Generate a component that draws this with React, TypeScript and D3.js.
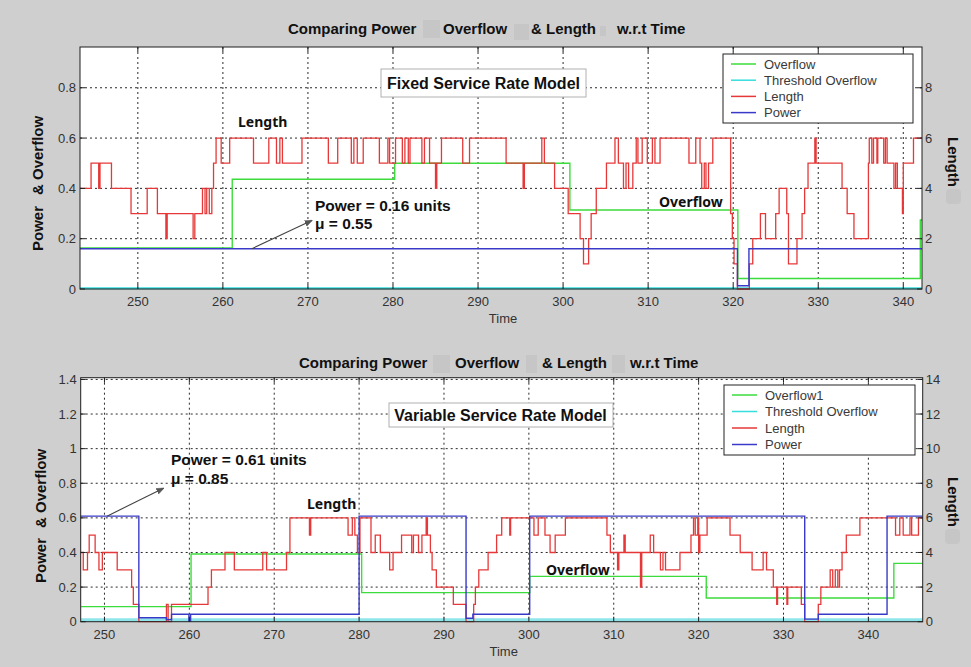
import React from "react";
import * as d3 from "d3";

type Pt = [number, number];

const W = 971;
const H = 667;

// ---------- Fixed service rate model ----------
const fixedTimeTicks = [250, 260, 270, 280, 290, 300, 310, 320, 330, 340];
const fixedLeftTicks = [0, 0.2, 0.4, 0.6, 0.8];
const fixedRightTicks = [0, 2, 4, 6, 8];
const fixedLegend = ["Overflow", "Threshold Overflow", "Length", "Power"];

// queue length (right axis), step changes [time, length]
const fixedLength: Pt[] = [
  [243.2, 4], [244.5, 5], [245.4, 4], [245.55, 5], [246.9, 4], [249.2, 3], [251.1, 4], [252.3, 3],
  [253.3, 2], [253.45, 3], [256.5, 2], [256.7, 3], [257.6, 4], [257.9, 3], [258.1, 4], [258.4, 3],
  [258.7, 4], [258.9, 5], [259.2, 6], [259.8, 5], [260.8, 6], [263.6, 5], [265.4, 6], [266.3, 5],
  [266.7, 6], [267.0, 5], [269.3, 6], [272.4, 5], [273.5, 6], [275.1, 5], [275.4, 6], [275.8, 5],
  [276.5, 6], [278.4, 5], [279.4, 6], [279.6, 5], [280.3, 6], [281.1, 5], [281.4, 6], [281.8, 5],
  [282.0, 6], [283.4, 5], [283.7, 6], [284.3, 5], [285.0, 4], [285.15, 5], [285.7, 6], [288.2, 5],
  [289.0, 6], [293.3, 5], [295.3, 4], [295.45, 5], [297.5, 6], [297.8, 5], [299.0, 4], [300.6, 3],
  [302.0, 2], [302.4, 1], [303.0, 2], [303.3, 3], [303.9, 4], [305.1, 5], [306.1, 6], [306.5, 5],
  [307.1, 4], [307.4, 5], [307.7, 4], [308.2, 5], [308.6, 6], [308.8, 5], [309.3, 6], [309.9, 5],
  [310.5, 6], [310.8, 5], [311.4, 6], [314.8, 5], [315.6, 6], [316.1, 5], [316.3, 4], [316.6, 5],
  [316.8, 4], [317.1, 5], [317.6, 6], [319.7, 3], [319.9, 2], [320.1, 1], [320.5, 0], [321.9, 1],
  [322.3, 2], [323.2, 3], [323.8, 2], [325.0, 3], [325.4, 4], [326.3, 3], [326.5, 1], [327.5, 2],
  [328.1, 3], [328.4, 4], [328.8, 5], [329.6, 6], [329.75, 5], [332.8, 4], [333.4, 3], [334.2, 2],
  [335.9, 5], [336.0, 6], [336.3, 5], [336.5, 6], [336.9, 5], [337.0, 6], [337.7, 5], [337.9, 6],
  [338.1, 5], [338.9, 4], [339.1, 5], [339.3, 4], [339.9, 3], [340.0, 5], [341.2, 6], [342.2, 6],
];
const fixedPower: Pt[] = [[243.2, 0.16], [320.5, 0.013], [321.85, 0.16], [342.2, 0.16]];
const fixedOverflow: Pt[] = [
  [243.2, 0.163], [261.1, 0.436], [280.2, 0.5], [300.8, 0.314], [320.55, 0.042], [342.0, 0.274], [342.2, 0.274],
];
const fixedThreshold: Pt[] = [[243.2, 0.003], [342.2, 0.003]];

// ---------- Variable service rate model ----------
const varTimeTicks = [250, 260, 270, 280, 290, 300, 310, 320, 330, 340];
const varLeftTicks = [0, 0.2, 0.4, 0.6, 0.8, 1, 1.2, 1.4];
const varRightTicks = [0, 2, 4, 6, 8, 10, 12, 14];
const varLegend = ["Overflow1", "Threshold Overflow", "Length", "Power"];

const varLength: Pt[] = [
  [247.2, 4], [247.5, 3], [248.0, 4], [248.2, 5], [248.9, 4], [249.35, 3], [249.75, 4], [251.5, 3],
  [253.2, 2], [253.4, 1], [254.05, 0], [257.3, 1], [257.5, 0], [257.9, 1], [262.2, 2], [262.6, 3],
  [264.2, 4], [265.3, 3], [268.65, 4], [269.1, 3], [271.45, 4], [271.85, 6], [274.15, 5], [274.3, 6],
  [278.7, 5], [279.2, 6], [279.5, 5], [279.8, 4], [280.1, 6], [281.4, 4], [281.9, 5], [282.5, 4],
  [283.6, 3], [284.0, 4], [285.0, 5], [286.2, 4], [286.4, 5], [287.0, 4], [287.4, 5], [287.9, 6],
  [288.05, 5], [288.4, 4], [288.6, 3], [289.1, 2], [291.1, 1], [292.6, 0], [293.5, 1], [293.7, 2],
  [294.1, 3], [295.2, 4], [296.2, 5], [296.8, 6], [297.75, 5], [297.85, 6], [300.6, 5], [301.1, 6],
  [301.9, 5], [302.5, 4], [303.1, 5], [304.3, 6], [309.2, 5], [309.6, 4], [310.45, 3], [310.6, 4],
  [311.2, 5], [311.35, 4], [313.15, 2], [313.3, 4], [314.3, 5], [314.7, 4], [315.5, 3], [315.8, 4],
  [316.1, 3], [317.8, 4], [319.1, 5], [319.4, 6], [319.6, 5], [319.9, 6], [320.0, 4], [320.15, 5],
  [321.0, 6], [323.7, 5], [324.9, 4], [326.3, 3], [327.6, 4], [328.0, 3], [328.8, 2], [329.2, 1],
  [329.3, 2], [330.4, 1], [330.5, 2], [332.1, 1], [332.5, 0], [334.1, 1], [334.4, 2], [335.5, 3],
  [335.8, 2], [336.1, 3], [336.4, 2], [336.6, 3], [336.9, 4], [337.4, 5], [339.0, 6], [343.2, 5],
  [343.7, 6], [344.1, 5], [344.9, 6], [345.1, 5], [345.9, 6], [346.4, 6],
];
const varPower: Pt[] = [
  [247.2, 0.61], [254.05, 0.023], [257.3, 0.012], [257.9, 0.043], [259.95, 0.004], [260.15, 0.043],
  [280.0, 0.61], [292.6, 0.02], [293.4, 0.043], [300.1, 0.61], [332.5, 0.015], [334.1, 0.043],
  [342.2, 0.61], [346.4, 0.61],
];
const varOverflow: Pt[] = [
  [247.2, 0.087], [260.2, 0.391], [280.3, 0.168], [300.1, 0.262], [320.9, 0.137], [343.0, 0.337], [346.4, 0.337],
];
const varThreshold: Pt[] = [[247.2, 0.01], [346.4, 0.01]];

const COLORS = {
  overflow: "#3ddc3d",
  threshold: "#36dede",
  length: "#e63838",
  power: "#3a3ac8",
};
const BG = "#cfcfcf";
const BLOCK = "#c6c6c6";
const SANS = '"Liberation Sans", Arial, sans-serif';
const CAL = '"Noto Sans", "Open Sans", sans-serif';

type Frame = { x0: number; x1: number; y0: number; y1: number };

type PanelProps = {
  id: string;
  frame: Frame;
  xDomain: [number, number];
  yMax: number;
  y2Max: number;
  xTicks: number[];
  yTicks: number[];
  y2Ticks: number[];
  length: Pt[];
  overflow: Pt[];
  threshold: Pt[];
  thresholdWidth: number;
  thresholdColor: string;
  power: Pt[];
  legendLabels: string[];
  legendBox: { x: number; y: number; w: number; h: number; step: number };
  annotate: (x: d3.ScaleLinear<number, number>, y: d3.ScaleLinear<number, number>) => React.ReactNode;
};

function Panel(p: PanelProps) {
  const { frame } = p;
  const x = d3.scaleLinear().domain(p.xDomain).range([frame.x0, frame.x1]);
  const y = d3.scaleLinear().domain([0, p.yMax]).range([frame.y1, frame.y0]);
  const y2 = d3.scaleLinear().domain([0, p.y2Max]).range([frame.y1, frame.y0]);

  const stepLeft = d3.line<Pt>().x((d) => x(d[0])).y((d) => y(d[1])).curve(d3.curveStepAfter);
  const stepRight = d3.line<Pt>().x((d) => x(d[0])).y((d) => y2(d[1])).curve(d3.curveStepAfter);

  const tickLen = 5;
  const fmt = (v: number) => String(v);
  const clipId = `clip-${p.id}`;
  const legendColors = [COLORS.overflow, COLORS.threshold, COLORS.length, COLORS.power];

  return (
    <g>
      <defs>
        <clipPath id={clipId}>
          <rect x={frame.x0} y={frame.y0 - 1} width={frame.x1 - frame.x0} height={frame.y1 - frame.y0 + 2} />
        </clipPath>
      </defs>
      <rect x={frame.x0} y={frame.y0} width={frame.x1 - frame.x0} height={frame.y1 - frame.y0} fill="#fff" />

      {/* dotted grid */}
      <g stroke="#2a2a2a" strokeWidth={1} strokeDasharray="2,3">
        {p.xTicks.map((t) => (
          <line key={`gx${t}`} x1={x(t)} x2={x(t)} y1={frame.y0} y2={frame.y1} />
        ))}
        {p.yTicks
          .filter((t) => t > 0)
          .map((t) => (
            <line key={`gy${t}`} x1={frame.x0} x2={frame.x1} y1={y(t)} y2={y(t)} />
          ))}
      </g>

      {/* series */}
      <g clipPath={`url(#${clipId})`} fill="none">
        <path d={stepLeft(p.overflow) || ""} stroke={COLORS.overflow} strokeWidth={1.4} />
        <path d={stepLeft(p.threshold) || ""} stroke={p.thresholdColor} strokeWidth={p.thresholdWidth} />
        <path d={stepRight(p.length) || ""} stroke={COLORS.length} strokeWidth={1.3} />
        <path d={stepLeft(p.power) || ""} stroke={COLORS.power} strokeWidth={1.4} />
      </g>

      {/* axes box and ticks */}
      <rect
        x={frame.x0}
        y={frame.y0}
        width={frame.x1 - frame.x0}
        height={frame.y1 - frame.y0}
        fill="none"
        stroke="#1e1e1e"
        strokeWidth={1}
      />
      <g stroke="#1e1e1e" strokeWidth={1}>
        {p.xTicks.map((t) => (
          <g key={`tx${t}`}>
            <line x1={x(t)} x2={x(t)} y1={frame.y1} y2={frame.y1 - tickLen} />
            <line x1={x(t)} x2={x(t)} y1={frame.y0} y2={frame.y0 + tickLen} />
          </g>
        ))}
        {p.yTicks.map((t) => (
          <line key={`ty${t}`} x1={frame.x0} x2={frame.x0 + tickLen} y1={y(t)} y2={y(t)} />
        ))}
        {p.y2Ticks.map((t) => (
          <line key={`ty2${t}`} x1={frame.x1} x2={frame.x1 - tickLen} y1={y2(t)} y2={y2(t)} />
        ))}
      </g>
      <g fontFamily={SANS} fontSize={13} fill="#333">
        {p.xTicks.map((t) => (
          <text key={`lx${t}`} x={x(t)} y={frame.y1 + 17} textAnchor="middle">
            {fmt(t)}
          </text>
        ))}
        {p.yTicks.map((t) => (
          <text key={`ly${t}`} x={frame.x0 - 4} y={y(t) + 4.5} textAnchor="end">
            {fmt(t)}
          </text>
        ))}
        {p.y2Ticks.map((t) => (
          <text key={`ly2${t}`} x={frame.x1 + 3} y={y2(t) + 4.5} textAnchor="start">
            {fmt(t)}
          </text>
        ))}
        <text x={(frame.x0 + frame.x1) / 2 + 2} y={frame.y1 + 34} textAnchor="middle">
          Time
        </text>
      </g>

      {/* legend */}
      <g>
        <rect
          x={p.legendBox.x}
          y={p.legendBox.y}
          width={p.legendBox.w}
          height={p.legendBox.h}
          fill="#fff"
          stroke="#222"
          strokeWidth={1}
        />
        {p.legendLabels.map((lab, i) => {
          const cy = p.legendBox.y + 10 + i * p.legendBox.step;
          return (
            <g key={lab}>
              <line
                x1={p.legendBox.x + 8}
                x2={p.legendBox.x + 33}
                y1={cy}
                y2={cy}
                stroke={legendColors[i]}
                strokeWidth={1.5}
              />
              <text
                x={p.legendBox.x + 41}
                y={cy + 4.5}
                fontFamily={SANS}
                fontSize={13}
                fill="#3a3a3a"
              >
                {lab}
              </text>
            </g>
          );
        })}
      </g>

      {p.annotate(x, y)}
    </g>
  );
}

function TitleParts({ parts, blocks, y }: { parts: [string, number][]; blocks: [number, number, number, number][]; y: number }) {
  return (
    <g>
      {blocks.map(([bx, by, bw, bh], i) => (
        <rect key={i} x={bx} y={by} width={bw} height={bh} fill={BLOCK} />
      ))}
      {parts.map(([s, px]) => (
        <text key={s} x={px} y={y} fontFamily={SANS} fontWeight="bold" fontSize={15} fill="#111">
          {s}
        </text>
      ))}
    </g>
  );
}

function YLabels({ cx, powerStart, overflowStart, lengthX, lengthY, lengthBlock }: {
  cx: number;
  powerStart: number;
  overflowStart: number;
  lengthX: number;
  lengthY: number;
  lengthBlock: [number, number, number, number];
}) {
  return (
    <g fontFamily={SANS} fontWeight="bold" fontSize={15} fill="#111">
      <text transform={`translate(${cx},${powerStart}) rotate(-90)`} dominantBaseline="central">
        Power
      </text>
      <text transform={`translate(${cx},${overflowStart}) rotate(-90)`} dominantBaseline="central">
        &amp; Overflow
      </text>
      <rect x={lengthBlock[0]} y={lengthBlock[1]} width={lengthBlock[2]} height={lengthBlock[3]} rx={4} fill={BLOCK} />
      <text
        transform={`translate(${lengthX},${lengthY}) rotate(90)`}
        textAnchor="middle"
        dominantBaseline="central"
      >
        Length
      </text>
    </g>
  );
}

function Arrow({ x1, y1, x2, y2 }: { x1: number; y1: number; x2: number; y2: number }) {
  return <line x1={x1} y1={y1} x2={x2} y2={y2} stroke="#444" strokeWidth={1.1} markerEnd="url(#arrowHead)" />;
}

export default function App() {
  return (
    <svg
      width={W}
      height={H}
      viewBox={`0 0 ${W} ${H}`}
      style={{ position: "absolute", left: 0, top: 0, display: "block", background: BG }}
    >
      <defs>
        <marker id="arrowHead" viewBox="0 0 10 10" refX={9} refY={5} markerWidth={7} markerHeight={7} orient="auto">
          <path d="M0,1 L10,5 L0,9 Z" fill="#555" stroke="#444" strokeWidth={0.5} />
        </marker>
      </defs>
      <rect width={W} height={H} fill={BG} />

      <TitleParts
        y={34}
        parts={[
          ["Comparing Power", 288],
          ["Overflow", 443],
          ["& Length", 531],
          ["w.r.t Time", 617],
        ]}
        blocks={[
          [423, 20, 17, 18],
          [514, 24, 15, 16],
          [600, 26, 6, 10],
        ]}
      />
      <Panel
        id="fixed"
        frame={{ x0: 80, x1: 922, y0: 47, y1: 289 }}
        xDomain={[243.2, 342.2]}
        yMax={0.962}
        y2Max={9.62}
        xTicks={fixedTimeTicks}
        yTicks={fixedLeftTicks}
        y2Ticks={fixedRightTicks}
        length={fixedLength}
        overflow={fixedOverflow}
        threshold={fixedThreshold}
        thresholdWidth={2}
        thresholdColor={COLORS.threshold}
        power={fixedPower}
        legendLabels={fixedLegend}
        legendBox={{ x: 723, y: 54, w: 190, h: 69, step: 16.2 }}
        annotate={(x, y) => (
          <g>
            <rect x={381} y={69} width={205} height={28} fill="#fff" stroke="#b0b0b0" />
            <text x={483.5} y={89} textAnchor="middle" fontFamily={SANS} fontWeight="bold" fontSize={16} fill="#111">
              Fixed Service Rate Model
            </text>
            <text x={238} y={127} fontFamily={CAL} fontWeight="bold" fontSize={14} fill="#111">
              Length
            </text>
            <text x={659} y={207} fontFamily={CAL} fontWeight="bold" fontSize={14} fill="#111">
              Overflow
            </text>
            <text x={315} y={211} fontFamily={SANS} fontWeight="bold" fontSize={15.5} fill="#111">
              Power = 0.16 units
            </text>
            <text x={315} y={229} fontFamily={SANS} fontWeight="bold" fontSize={15.5} fill="#111">
              μ = 0.55
            </text>
            <Arrow x1={x(263.4)} y1={y(0.16)} x2={x(270.45)} y2={y(0.272)} />
          </g>
        )}
      />

      <TitleParts
        y={368}
        parts={[
          ["Comparing Power", 299],
          ["Overflow", 455],
          ["& Length", 542],
          ["w.r.t Time", 630],
        ]}
        blocks={[
          [433, 355, 17, 18],
          [526, 355, 11, 18],
          [612, 355, 13, 18],
        ]}
      />
      <Panel
        id="variable"
        frame={{ x0: 80.7, x1: 922.7, y0: 377.7, y1: 621.7 }}
        xDomain={[247.2, 346.4]}
        yMax={1.41}
        y2Max={14.1}
        xTicks={varTimeTicks}
        yTicks={varLeftTicks}
        y2Ticks={varRightTicks}
        length={varLength}
        overflow={varOverflow}
        threshold={varThreshold}
        thresholdWidth={3.5}
        thresholdColor="#8ee6ea"
        power={varPower}
        legendLabels={varLegend}
        legendBox={{ x: 724, y: 385, w: 191, h: 70, step: 16.5 }}
        annotate={(x, y) => (
          <g>
            <rect x={389} y={403} width={224} height={24} fill="#fff" stroke="#b0b0b0" />
            <text x={500.5} y={421} textAnchor="middle" fontFamily={SANS} fontWeight="bold" fontSize={16} fill="#111">
              Variable Service Rate Model
            </text>
            <text x={307} y={509} fontFamily={CAL} fontWeight="bold" fontSize={14} fill="#111">
              Length
            </text>
            <text x={546} y={575} fontFamily={CAL} fontWeight="bold" fontSize={14} fill="#111">
              Overflow
            </text>
            <text x={171} y={465} fontFamily={SANS} fontWeight="bold" fontSize={15.5} fill="#111">
              Power = 0.61 units
            </text>
            <text x={171} y={484} fontFamily={SANS} fontWeight="bold" fontSize={15.5} fill="#111">
              μ = 0.85
            </text>
            <Arrow x1={x(250.3)} y1={y(0.61)} x2={x(256.95)} y2={y(0.771)} />
          </g>
        )}
      />

      <YLabels cx={37} powerStart={251} overflowStart={195} lengthX={953} lengthY={162} lengthBlock={[946, 189, 15, 15]} />
      <YLabels cx={40} powerStart={583} overflowStart={528} lengthX={953} lengthY={502} lengthBlock={[945, 529, 15, 15]} />
    </svg>
  );
}
